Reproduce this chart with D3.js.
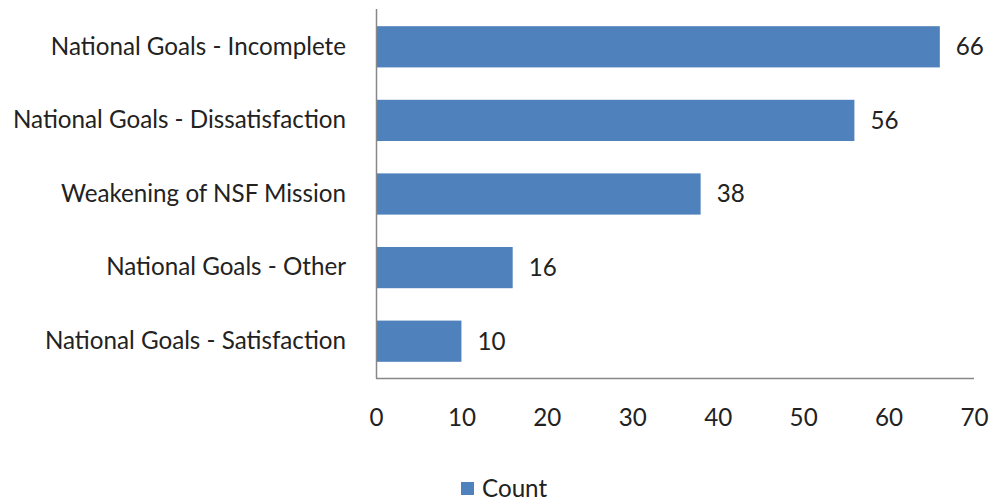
<!DOCTYPE html>
<html><head><meta charset="utf-8">
<script src="https://cdn.jsdelivr.net/npm/d3@7"></script>
<style>body{margin:0;background:#fff}svg{display:block}text{font-family:Lato,"Open Sans",sans-serif;fill:#222}</style>
</head><body>
<script>
const categories = ["National Goals - Incomplete","National Goals - Dissatisfaction","Weakening of NSF Mission","National Goals - Other","National Goals - Satisfaction"];
const values = [66,56,38,16,10];
const xTicks = [0,10,20,30,40,50,60,70];
const seriesName = "Count";

const W=990,H=502;
const svg=d3.select("body").append("svg").attr("width",W).attr("height",H);
const x=d3.scaleLinear().domain([0,70]).range([376,974]);
const y=d3.scaleBand().domain(categories).range([10,378]).paddingInner(0.44).paddingOuter(0.22);
const color="#4f81bd";
const fs=24.2;

svg.selectAll("rect.bar").data(values).join("rect").attr("class","bar")
  .attr("x",x(0)).attr("y",(d,i)=>y(categories[i])).attr("width",d=>x(d)-x(0)).attr("height",y.bandwidth()).attr("fill",color);

svg.append("line").attr("x1",376.5).attr("x2",376.5).attr("y1",9).attr("y2",378.5).attr("stroke","#888").attr("stroke-width",1.5);
svg.append("line").attr("x1",376).attr("x2",974).attr("y1",378.5).attr("y2",378.5).attr("stroke","#888").attr("stroke-width",1.5);

const xa=svg.append("g").attr("transform","translate(0,378)").call(d3.axisBottom(x).tickValues(xTicks).tickSize(0).tickPadding(31));
xa.select(".domain").remove();
xa.selectAll("text").style("font-size",fs+"px").style("font-family","Lato").attr("fill","#222");

const ya=svg.append("g").attr("transform","translate(346,0)").call(d3.axisLeft(y).tickSize(0).tickPadding(0));
ya.select(".domain").remove();
ya.selectAll("text").style("font-size",fs+"px").style("font-family","Lato").attr("fill","#222");

svg.selectAll("text.val").data(values).join("text").attr("class","val")
  .attr("x",d=>x(d)+16).attr("y",(d,i)=>y(categories[i])+y.bandwidth()/2).attr("dy","0.35em")
  .style("font-size",fs+"px").text(d=>d);

svg.append("rect").attr("x",461).attr("y",482).attr("width",13).attr("height",13).attr("fill",color);
svg.append("text").attr("x",482).attr("y",497).style("font-size",fs+"px").text(seriesName);
</script>
</body></html>
